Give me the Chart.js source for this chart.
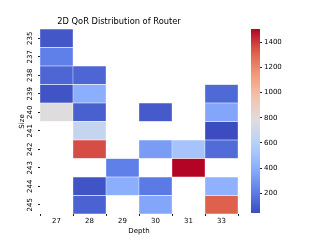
<!DOCTYPE html>
<html>
<head>
<meta charset="utf-8">
<script src="https://cdn.jsdelivr.net/npm/chart.js@4"></script>
<style>
  html, body { margin: 0; padding: 0; background: #fff; }
  #wrap { position: relative; width: 320px; height: 240px; }
  #main { position: absolute; left: 0; top: 0; }
  #cbar { position: absolute; left: 240px; top: 0; }
</style>
</head>
<body>
<div id="wrap">
  <canvas id="main" width="320" height="240"></canvas>
  <canvas id="cbar" width="60" height="240"></canvas>
</div>
<script>
// data (null = empty cell)
var depths = ['27', '28', '29', '30', '31', '33'];
var sizes = ['235', '237', '238', '239', '240', '241', '242', '243', '244', '245'];
var d27 = [80, 220, 130, 70, 780, null, null, null, null, null];
var d28 = [null, null, 130, 400, 110, 660, 1360, null, 70, 120];
var d29 = [null, null, null, null, null, null, null, 220, 400, null];
var d30 = [null, null, null, null, 90, null, 330, null, 200, 370];
var d31 = [null, null, null, null, null, null, 520, 1506, null, null];
var d33 = [null, null, null, 140, 370, 43, 150, null, 420, 1320];
var cbTicks = [200, 400, 600, 800, 1000, 1200, 1400];

var columns = [d27, d28, d29, d30, d31, d33];

// coolwarm colormap
var cw = [
  [0, 59, 76, 192], [0.125, 97, 130, 234], [0.25, 141, 176, 254],
  [0.375, 184, 208, 249], [0.5, 221, 221, 221], [0.625, 245, 196, 173],
  [0.75, 244, 154, 123], [0.875, 222, 96, 77], [1, 180, 4, 38]
];
function coolwarm(t) {
  t = Math.max(0, Math.min(1, t));
  for (var i = 1; i < cw.length; i++) {
    if (t <= cw[i][0]) {
      var a = cw[i - 1], b = cw[i];
      var f = (t - a[0]) / (b[0] - a[0]);
      return 'rgb(' + Math.round(a[1] + f * (b[1] - a[1])) + ',' +
        Math.round(a[2] + f * (b[2] - a[2])) + ',' +
        Math.round(a[3] + f * (b[3] - a[3])) + ')';
    }
  }
  return 'rgb(180,4,38)';
}

var cells = [];
var vmin = Infinity, vmax = -Infinity;
columns.forEach(function(col, c) {
  col.forEach(function(v, r) {
    if (v === null) return;
    cells.push({x: depths[c], y: [r - 0.5, r + 0.5], v: v});
    vmin = Math.min(vmin, v);
    vmax = Math.max(vmax, v);
  });
});

var font = {family: 'DejaVu Sans', size: 7};

new Chart(document.getElementById('main'), {
  type: 'bar',
  data: {
    labels: depths,
    datasets: [{
      data: cells,
      backgroundColor: function(ctx) {
        if (!ctx.raw) return '#fff';
        return coolwarm((ctx.raw.v - vmin) / (vmax - vmin));
      },
      borderColor: 'rgba(255,255,255,0.7)',
      borderWidth: 0.5,
      borderSkipped: false,
      barPercentage: 1,
      categoryPercentage: 1,
      grouped: false
    }]
  },
  options: {
    responsive: false,
    animation: false,
    events: [],
    layout: {padding: {left: 0, right: 82, top: 0, bottom: 0}},
    plugins: {
      legend: {display: false},
      tooltip: {enabled: false},
      title: {
        display: true,
        text: '2D QoR Distribution of Router',
        color: '#000',
        font: {family: 'DejaVu Sans', size: 8.3, weight: 'normal'},
        padding: {top: 17, bottom: 2}
      }
    },
    scales: {
      x: {
        type: 'category',
        offset: true,
        grid: {display: true, drawOnChartArea: false, drawTicks: true, tickLength: 2, color: '#222'},
        border: {display: false},
        ticks: {color: '#000', font: font, padding: 1, maxRotation: 0},
        title: {display: true, text: 'Depth', color: '#000', font: font, padding: {top: 0, bottom: 5}},
        afterFit: function(s) { s.height = 26; }
      },
      y: {
        type: 'linear',
        reverse: true,
        min: -0.5,
        max: 9.5,
        afterBuildTicks: function(s) {
          s.ticks = sizes.map(function(_, i) { return {value: i}; });
        },
        grid: {display: true, drawOnChartArea: false, drawTicks: true, tickLength: 2, color: '#222'},
        border: {display: false},
        ticks: {
          color: '#000', font: font, padding: 1,
          minRotation: 90, maxRotation: 90, crossAlign: 'center',
          callback: function(v) { return sizes[v]; }
        },
        title: {display: true, text: 'Size', color: '#000', font: font, padding: {top: 18, bottom: 0}},
        afterFit: function(s) { s.width = 40; }
      }
    }
  }
});

// colorbar
new Chart(document.getElementById('cbar'), {
  type: 'bar',
  data: {
    labels: [''],
    datasets: [{
      data: [[vmin, vmax]],
      backgroundColor: function(ctx) {
        var area = ctx.chart.chartArea;
        if (!area) return '#ddd';
        var g = ctx.chart.ctx.createLinearGradient(0, area.bottom, 0, area.top);
        for (var i = 0; i <= 20; i++) g.addColorStop(i / 20, coolwarm(i / 20));
        return g;
      },
      borderWidth: 0,
      barPercentage: 1,
      categoryPercentage: 1
    }]
  },
  options: {
    responsive: false,
    animation: false,
    events: [],
    layout: {padding: {left: 11, right: 0, top: 29, bottom: 27}},
    plugins: {legend: {display: false}, tooltip: {enabled: false}},
    scales: {
      x: {display: false},
      y: {
        position: 'right',
        min: vmin,
        max: vmax,
        afterBuildTicks: function(s) {
          s.ticks = cbTicks.map(function(v) { return {value: v}; });
        },
        grid: {display: true, drawOnChartArea: false, drawTicks: true, tickLength: 2, color: '#222'},
        border: {display: false},
        ticks: {
          color: '#000', font: font, padding: 2,
          callback: function(v) { return String(v); }
        },
        afterFit: function(s) { s.width = 40; }
      }
    }
  }
});
</script>
</body>
</html>
